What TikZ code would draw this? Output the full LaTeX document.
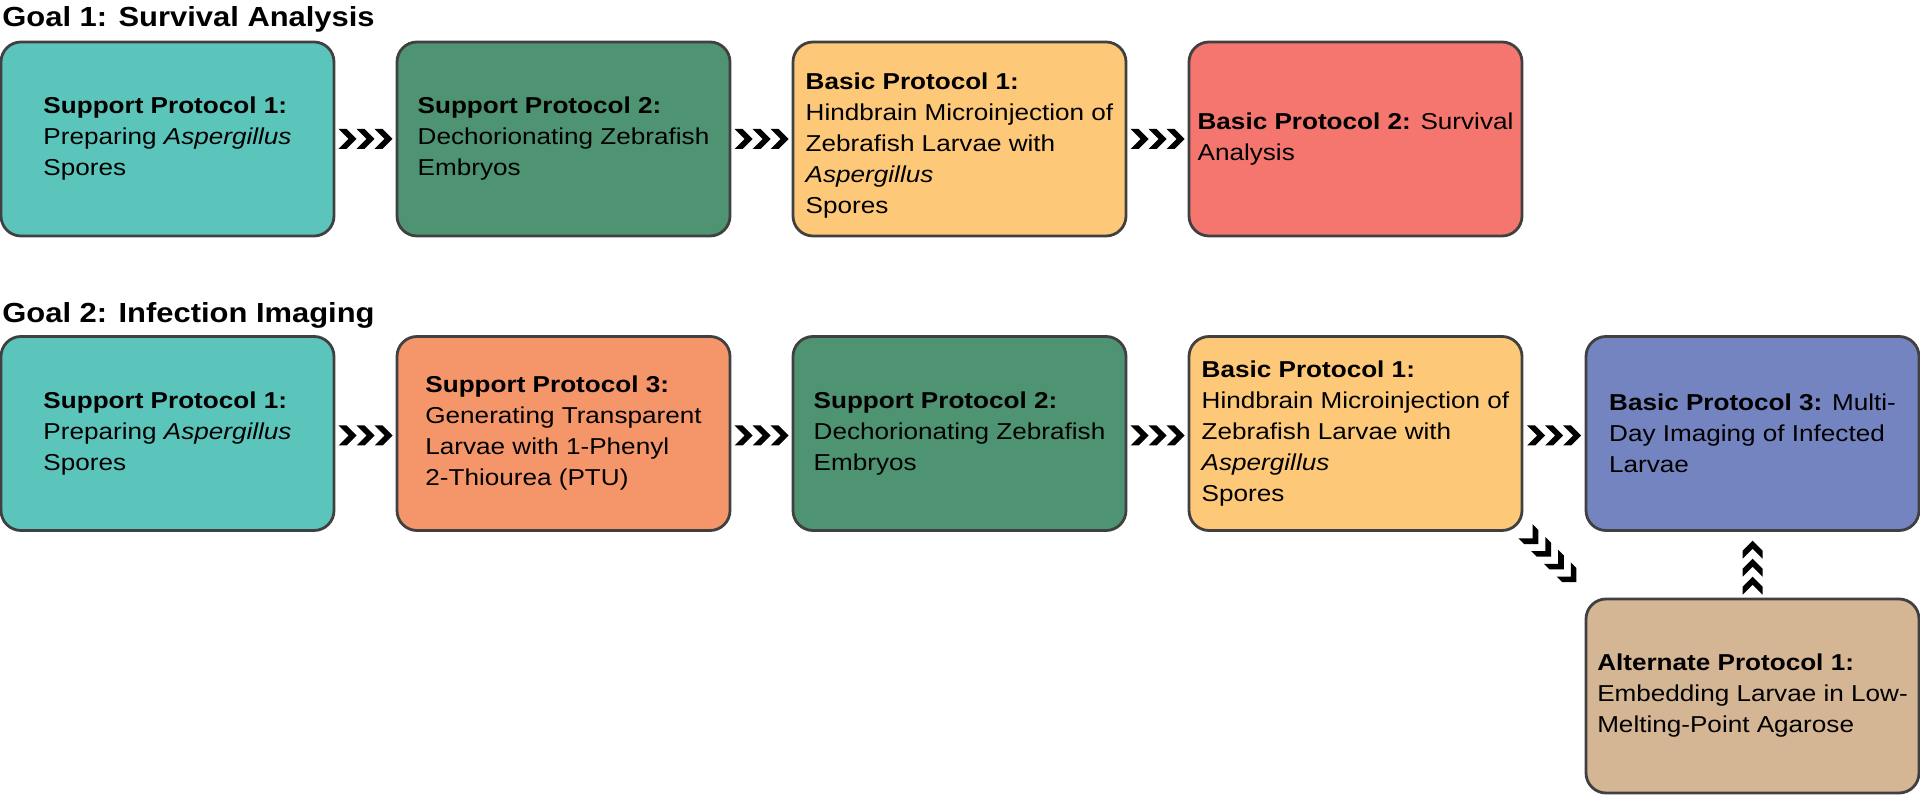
\documentclass[tikz,border=0pt]{standalone}
\usepackage{fontspec}
\usetikzlibrary{calc}
\newfontfamily\boxfont[FakeStretch=1.135]{Liberation Sans}
\newfontfamily\titlefont[FakeStretch=1.12]{Liberation Sans}
\definecolor{cteal}{HTML}{5BC5BC}
\definecolor{cgreen}{HTML}{4E9472}
\definecolor{cyellow}{HTML}{FDC878}
\definecolor{cred}{HTML}{F4766F}
\definecolor{corange}{HTML}{F5956A}
\definecolor{cblue}{HTML}{7484C0}
\definecolor{ctan}{HTML}{D4B594}
\definecolor{boxline}{HTML}{404040}
\tikzset{
  box/.style={draw=boxline, line width=1.4pt, rounded corners=10pt,
    minimum width=166.5pt, minimum height=97pt, inner sep=0pt,
    align=left, font=\boxfont\fontsize{11.5pt}{15.5pt}\selectfont},
  boxtext/.style={align=left, inner sep=0pt, font=\boxfont\fontsize{11.5pt}{15.5pt}\selectfont},
  goal/.style={anchor=base west, inner sep=0pt,
    font=\titlefont\bfseries\fontsize{13.8pt}{16pt}\selectfont},
  chevsthree/.pic={\foreach \d in {-18,0,18}{\fill[black,shift={(\d,0)}] (-9,10) -- (-1,10) -- (9,0) -- (-1,-10) -- (-9,-10) -- (1,0) -- cycle;}},
  chevsfour/.pic={\foreach \d in {-27,-9,9,27}{\fill[black,shift={(\d,0)}] (-9,10) -- (-1,10) -- (9,0) -- (-1,-10) -- (-9,-10) -- (1,0) -- cycle;}},
}
\begin{document}
\begin{tikzpicture}[x=0.5pt, y=-0.5pt]
\useasboundingbox (0,0) rectangle (1920,795);
\node[goal] (g1) at (2,27) {Goal 1: Survival Analysis};
\node[goal] (g2) at (2,323) {Goal 2: Infection Imaging};
% row 1
\node[box, fill=cteal] (a1) at (167.5,139) {\textbf{Support Protocol 1:}\\Preparing \textit{Aspergillus}\\Spores};
\node[box, fill=cgreen] (a2) at (563.5,139) {\textbf{Support Protocol 2:}\\Dechorionating Zebrafish\\Embryos};
\node[box, fill=cyellow] (a3) at (959.5,139) {};
\node[boxtext] (a3t) at (959.5,146) {\textbf{Basic Protocol 1:}\\Hindbrain Microinjection of\\Zebrafish Larvae with\\\textit{Aspergillus}\\Spores};
\node[box, fill=cred] (a4) at (1355.5,139) {\textbf{Basic Protocol 2:} Survival\\Analysis};
% row 2
\node[box, fill=cteal] (c1) at (167.5,433.5) {\textbf{Support Protocol 1:}\\Preparing \textit{Aspergillus}\\Spores};
\node[box, fill=corange] (c2) at (563.5,433.5) {\textbf{Support Protocol 3:}\\Generating Transparent\\Larvae with 1-Phenyl\\2-Thiourea (PTU)};
\node[box, fill=cgreen] (c3) at (959.5,433.5) {\textbf{Support Protocol 2:}\\Dechorionating Zebrafish\\Embryos};
\node[box, fill=cyellow] (c4) at (1355.5,433.5) {\textbf{Basic Protocol 1:}\\Hindbrain Microinjection of\\Zebrafish Larvae with\\\textit{Aspergillus}\\Spores};
\node[box, fill=cblue] (c5) at (1752.5,433.5) {\textbf{Basic Protocol 3:} Multi-\\Day Imaging of Infected\\Larvae};
\node[box, fill=ctan] (alt) at (1752.5,696) {\textbf{Alternate Protocol 1:}\\Embedding Larvae in Low-\\Melting-Point Agarose};
% connectors
\pic at ($(a1.east)!0.5!(a2.west)$) {chevsthree};
\pic at ($(a2.east)!0.5!(a3.west)$) {chevsthree};
\pic at ($(a3.east)!0.5!(a4.west)$) {chevsthree};
\pic at ($(c1.east)!0.5!(c2.west)+(0,2)$) {chevsthree};
\pic at ($(c2.east)!0.5!(c3.west)+(0,2)$) {chevsthree};
\pic at ($(c3.east)!0.5!(c4.west)+(0,2)$) {chevsthree};
\pic at ($(c4.east)!0.5!(c5.west)+(0,2)$) {chevsthree};
\pic[rotate=-45] at ($(c4.south east)!0.5!(alt.north west)+(-3,-8)$) {chevsfour};
\pic[rotate=90] at ($(c5.south)!0.5!(alt.north)+(0,3)$) {chevsthree};
\end{tikzpicture}
\end{document}
